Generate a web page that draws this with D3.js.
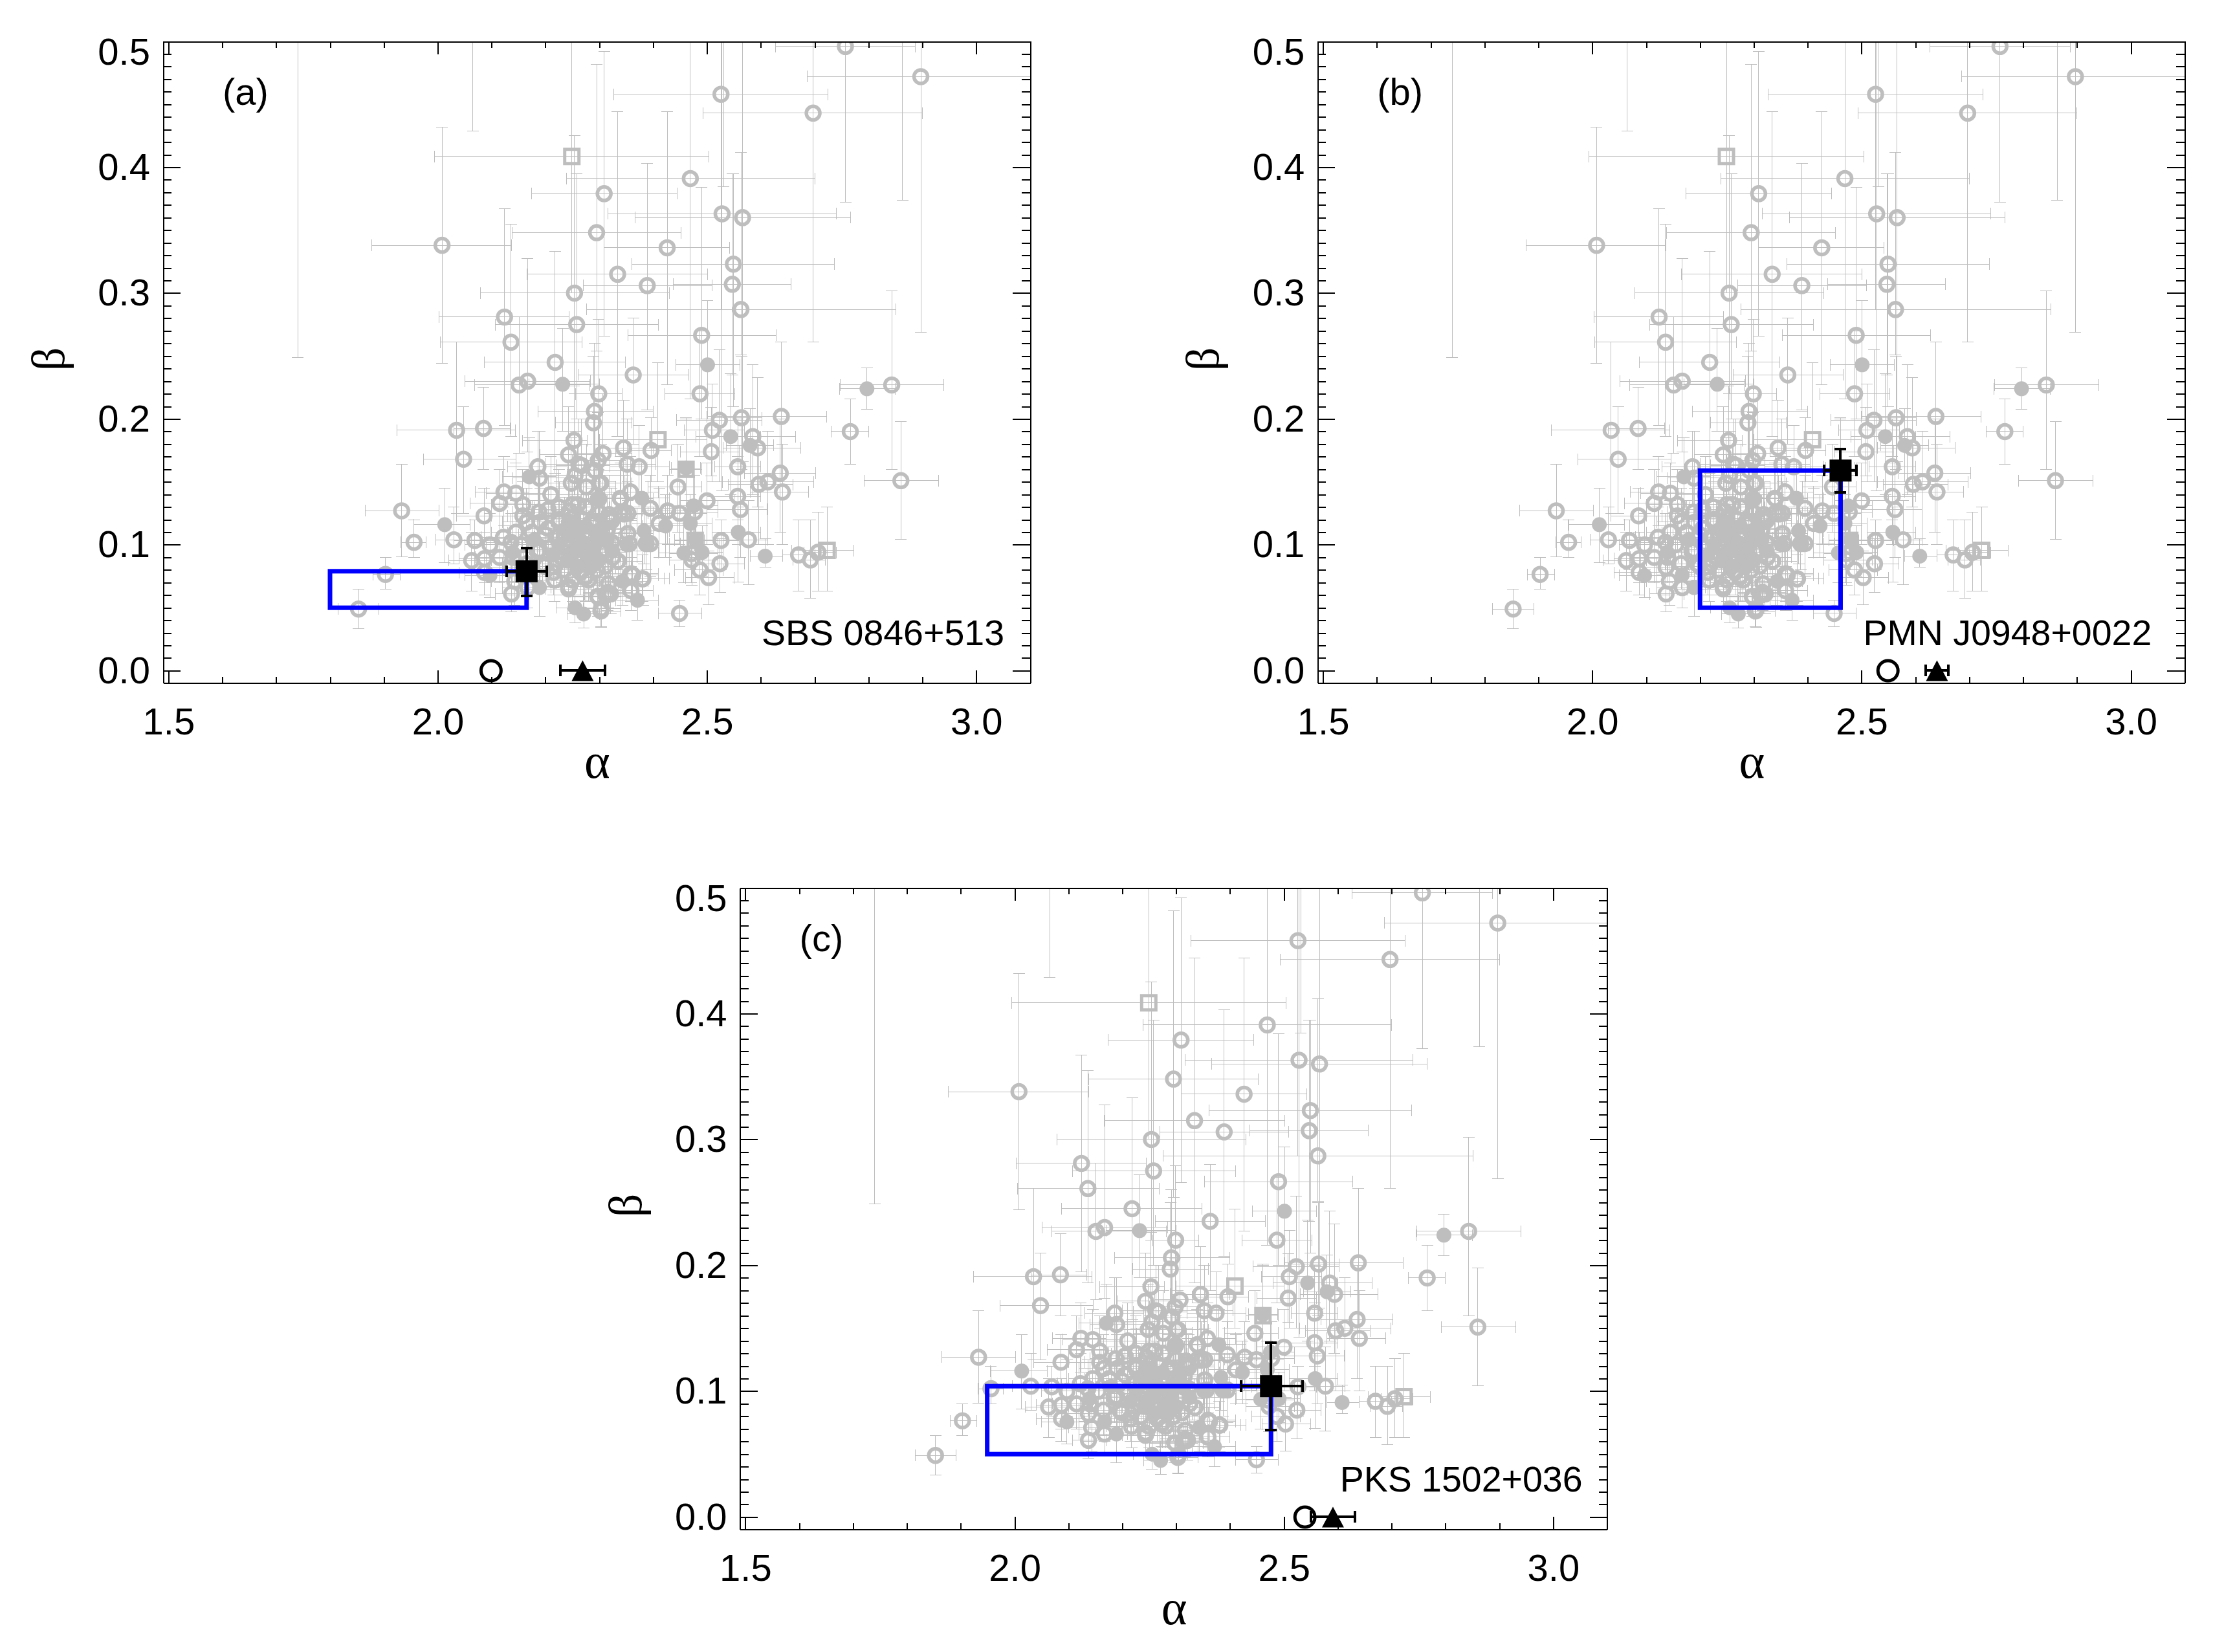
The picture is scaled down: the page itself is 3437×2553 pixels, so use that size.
<!DOCTYPE html>
<html lang="en">
<head>
<meta charset="UTF-8">
<title>alpha beta</title>
<script src="https://d3js.org/d3.v7.min.js"></script>
<style>
  html, body { margin: 0; background: #fff; }
  text { font-family: "Liberation Sans", sans-serif; fill: #000; }
</style>
</head>
<body>
<script>
// each row: alpha, beta, alphaLo, alphaHi, betaLo, betaHi
const openCircles = [
[2.008,.338,1.877,2.137,.244,.432],[2.254,.300,2.079,2.43,.22,.425],[2.258,.275,2.107,2.41,.2,.395],
[2.469,.391,2.239,2.70,.216,.6],[2.309,.379,2.174,2.444,.266,.492],[2.295,.348,2.138,2.452,.254,.482],
[2.426,.336,2.309,2.542,.227,.444],[2.334,.315,2.166,2.501,.186,.444],[2.389,.306,2.27,2.509,.207,.403],
[2.124,.281,2.003,2.244,.195,.367],[2.526,.458,2.327,2.725,.287,.6],[2.528,.363,2.316,2.74,.143,.6],
[2.697,.443,2.493,2.9,.261,.6],[2.757,.496,2.627,2.887,.372,.6],[2.897,.472,2.686,3.2,.269,.6],
[2.566,.36,2.366,2.766,.166,.6],[2.549,.323,2.361,2.737,.21,.395],[2.547,.307,2.437,2.656,.235,.395],
[2.563,.287,2.276,2.851,.251,.412],[2.49,.2665,2.353,2.628,.2,.384],[2.136,.261,2.005,2.268,.186,.3545],
[2.218,.245,2.087,2.348,.157,.333],[2.167,.230,2.051,2.284,.174,.3275],[2.151,.227,2.069,2.282,.1725,.281],
[2.299,.220,2.256,2.342,.16,.279],[2.291,.206,2.186,2.40,.15,.26],[2.289,.197,2.219,2.36,.15,.25],
[2.035,.191,1.924,2.144,.125,.261],[2.085,.1925,2.03,2.134,.16,.225],[2.048,.168,1.973,2.146,.125,.21],
[2.253,.183,2.158,2.278,.14,.226],[2.243,.1715,2.19,2.30,.13,.21],[2.307,.1725,2.26,2.36,.13,.22],
[2.345,.177,2.29,2.40,.14,.215],[2.262,.164,2.2,2.32,.125,.2],[2.352,.164,2.30,2.405,.125,.2],
[2.374,.162,2.32,2.43,.13,.195],[2.292,.159,2.24,2.35,.12,.2],[2.186,.162,2.13,2.24,.13,.19],
[2.189,.153,2.14,2.24,.12,.19],[2.248,.149,2.19,2.30,.11,.185],[2.30,.149,2.25,2.35,.115,.18],
[2.276,.146,2.22,2.33,.11,.18],[2.123,.142,2.07,2.17,.115,.17],[2.145,.141,2.09,2.20,.115,.165],
[2.115,.133,2.06,2.17,.105,.16],[2.158,.132,2.10,2.21,.105,.16],[2.358,.142,2.31,2.41,.11,.17],
[2.34,.1365,2.28,2.40,.105,.17],[2.25,.132,2.19,2.31,.105,.16],[2.188,.126,2.14,2.24,.10,.155],
[2.158,.123,2.10,2.21,.095,.15],[2.086,.123,2.035,2.13,.10,.145],[2.226,.120,2.17,2.28,.09,.15],
[2.25,.121,2.20,2.30,.09,.15],[2.318,.124,2.27,2.37,.095,.155],[2.346,.1245,2.29,2.40,.095,.155],
[2.487,.22,2.422,2.552,.17,.27],[2.638,.202,2.50,2.722,.15,.261],[2.523,.199,2.443,2.602,.15,.255],
[2.564,.201,2.508,2.602,.16,.25],[2.51,.191,2.458,2.57,.15,.228],[2.585,.186,2.50,2.664,.14,.243],
[2.594,.177,2.53,2.674,.13,.233],[2.396,.175,2.33,2.434,.15,.201],[2.508,.174,2.45,2.56,.1545,.209],
[2.557,.162,2.514,2.60,.12,.20],[2.446,.146,2.39,2.49,.11,.18],[2.636,.157,2.569,2.702,.11,.20],
[2.613,.150,2.529,2.698,.10,.19],[2.596,.148,2.54,2.66,.10,.18],[2.64,.142,2.58,2.689,.10,.18],
[2.557,.1385,2.50,2.60,.10,.17],[2.562,.128,2.50,2.612,.09,.165],[2.50,.135,2.45,2.55,.10,.165],
[2.766,.190,2.731,2.80,.164,.216],[2.843,.227,2.747,2.94,.16,.302],[2.86,.151,2.792,2.93,.1045,.198],
[2.577,.104,2.53,2.613,.0685,.135],[2.526,.1035,2.495,2.56,.08,.12],[2.524,.085,2.47,2.569,.062,.105],
[2.487,.080,2.44,2.53,.06,.10],[2.503,.074,2.46,2.55,.0525,.095],[2.67,.092,2.64,2.70,.063,.12],
[2.692,.088,2.66,2.72,.0576,.12],[2.706,.094,2.68,2.74,.063,.126],[2.449,.0455,2.41,2.49,.035,.056],
[2.477,.126,2.43,2.52,.095,.155],[2.471,.093,2.43,2.52,.07,.12],[2.427,.127,2.38,2.47,.10,.155],
[2.449,.125,2.40,2.50,.10,.15],[2.411,.117,2.36,2.46,.09,.145],[2.353,.109,2.30,2.40,.08,.135],
[2.395,.101,2.34,2.45,.075,.13],[2.395,.129,2.34,2.45,.10,.155],[2.339,.137,2.29,2.39,.11,.165],
[2.299,.1365,2.25,2.35,.105,.165],[2.303,.149,2.25,2.36,.12,.18],[2.339,.125,2.29,2.39,.10,.155],
[2.319,.121,2.27,2.37,.09,.15],[2.353,.125,2.30,2.41,.10,.15],[2.321,.061,2.27,2.37,.045,.08],
[2.297,.059,2.25,2.35,.043,.078],[2.303,.0474,2.27,2.34,.035,.06],[2.313,.060,2.27,2.36,.045,.08],
[2.359,.077,2.31,2.41,.055,.10],[2.381,.073,2.34,2.43,.052,.095],[2.359,.0635,2.31,2.40,.048,.083],
[2.317,.069,2.27,2.36,.05,.09],[2.335,.087,2.29,2.38,.065,.11],[2.311,.083,2.26,2.36,.06,.105],
[2.299,.106,2.25,2.35,.08,.13],[2.323,.119,2.27,2.37,.09,.145],[2.303,.094,2.25,2.35,.07,.115],
[2.323,.102,2.28,2.37,.08,.125],[2.293,.118,2.24,2.34,.09,.145],[1.933,.127,1.865,2.002,.0906,.164],
[1.956,.102,1.932,1.979,.09,.12],[2.03,.104,1.996,2.08,.085,.13],[2.069,.1035,2.03,2.11,.08,.12],
[2.097,.100,2.05,2.14,.08,.125],[2.122,.106,2.08,2.17,.085,.13],[2.136,.102,2.09,2.18,.08,.125],
[2.063,.0875,2.02,2.10,.063,.11],[2.087,.089,2.04,2.13,.07,.11],[2.115,.090,2.07,2.16,.07,.11],
[2.137,.082,2.09,2.18,.06,.105],[2.087,.078,2.04,2.13,.06,.10],[2.143,.071,2.10,2.19,.052,.09],
[2.137,.061,2.107,2.17,.047,.08],[2.167,.066,2.12,2.21,.05,.085],[2.189,.096,2.14,2.24,.075,.12],
[2.199,.083,2.15,2.25,.065,.105],[2.217,.072,2.17,2.26,.055,.09],[2.243,.067,2.20,2.29,.05,.085],
[2.275,.075,2.23,2.32,.055,.095],[1.903,.0765,1.88,1.93,.065,.09],[1.853,.049,1.815,1.891,.0334,.0648],
[2.243,.065,2.20,2.29,.05,.085],[2.273,.074,2.23,2.32,.056,.095],[2.316,.062,2.27,2.36,.048,.08],
[2.298,.0587,2.25,2.34,.045,.075],[2.304,.0494,2.27,2.34,.0345,.065],[2.362,.076,2.32,2.41,.058,.095],
[2.38,.073,2.34,2.42,.055,.092],[2.356,.101,2.31,2.40,.08,.125],[2.387,.101,2.34,2.43,.08,.125],
[2.472,.088,2.43,2.52,.068,.11],[2.267,.163,2.22,2.32,.125,.2],[2.298,.167,2.25,2.35,.13,.205],
[2.363,.235,2.261,2.466,.18,.28],[2.19,.118,2.14,2.24,.09,.145],[2.20,.108,2.15,2.25,.085,.135],
[2.205,.113,2.16,2.25,.09,.14],[2.21,.098,2.17,2.25,.075,.125],[2.22,.106,2.18,2.26,.08,.13],
[2.225,.118,2.18,2.27,.09,.145],[2.23,.09,2.19,2.27,.07,.115],[2.235,.109,2.19,2.28,.085,.135],
[2.24,.097,2.20,2.28,.075,.12],[2.245,.118,2.20,2.29,.09,.145],[2.247,.104,2.20,2.29,.08,.13],
[2.255,.088,2.21,2.30,.07,.11],[2.26,.112,2.21,2.31,.085,.14],[2.265,.098,2.22,2.31,.075,.125],
[2.27,.12,2.22,2.32,.095,.15],[2.275,.108,2.23,2.32,.085,.135],[2.28,.09,2.24,2.32,.07,.115],
[2.285,.118,2.24,2.33,.09,.145],[2.29,.10,2.25,2.33,.08,.125],[2.295,.11,2.25,2.34,.085,.135],
[2.30,.125,2.25,2.35,.10,.155],[2.305,.096,2.26,2.35,.075,.12],[2.315,.112,2.27,2.36,.085,.14],
[2.325,.09,2.28,2.37,.07,.115],[2.195,.085,2.15,2.24,.065,.105],[2.215,.078,2.17,2.26,.06,.10],
[2.235,.08,2.19,2.28,.06,.10],[2.25,.072,2.21,2.29,.055,.09],[2.265,.078,2.22,2.31,.06,.10],
[2.28,.072,2.24,2.32,.055,.09],[2.295,.08,2.25,2.34,.06,.10],[2.245,.127,2.20,2.29,.10,.155],
[2.225,.13,2.18,2.27,.10,.16],[2.26,.132,2.21,2.31,.105,.16],[2.205,.128,2.16,2.25,.10,.155],
[2.185,.095,2.14,2.23,.075,.12],[2.175,.11,2.13,2.22,.085,.135],[2.165,.118,2.12,2.21,.09,.145],
[2.155,.10,2.11,2.20,.08,.125],[2.145,.11,2.10,2.19,.085,.135],[2.14,.09,2.09,2.19,.07,.11],
[2.165,.085,2.12,2.21,.065,.105],[2.255,.155,2.21,2.30,.12,.19],[2.21,.14,2.16,2.26,.11,.17],
[2.275,.13,2.23,2.32,.10,.16],[2.22,.085,2.18,2.26,.065,.105],[2.247,.092,2.21,2.29,.072,.112]
];

const filledCircles = [
[2.501,.243,2.442,2.561,.20,.294],[2.544,.186,2.48,2.60,.14,.236],[2.58,.179,2.536,2.624,.15,.208],
[2.461,.161,2.434,2.488,.13,.201],[2.797,.224,2.746,2.85,.2075,.2405],[2.232,.2276,2.17,2.30,.19,.272],
[2.17,.154,2.12,2.22,.125,.185],[2.296,.1365,2.25,2.34,.11,.165],[2.013,.116,1.955,2.06,.086,.145],
[2.558,.110,2.51,2.60,.0706,.13],[2.608,.091,2.58,2.64,.082,.105],[2.371,.056,2.33,2.41,.04,.07],
[2.479,.104,2.44,2.52,.08,.13],[2.491,.094,2.45,2.53,.075,.115],[2.457,.0936,2.41,2.50,.07,.115],
[2.469,.117,2.43,2.51,.09,.14],[2.475,.131,2.43,2.52,.105,.155],[2.423,.115,2.38,2.47,.09,.14],
[2.383,.111,2.34,2.43,.085,.135],[2.387,.101,2.34,2.43,.08,.125],[2.351,.100,2.31,2.40,.08,.125],
[2.379,.137,2.33,2.43,.11,.165],[2.343,.071,2.30,2.39,.052,.09],[2.139,.094,2.09,2.18,.075,.115],
[2.097,.0756,2.05,2.14,.058,.095],[2.167,.076,2.12,2.21,.06,.095],[2.189,.066,2.15,2.23,.043,.09],
[2.179,.104,2.13,2.23,.08,.13],[2.255,.050,2.22,2.29,.038,.065],[2.271,.045,2.24,2.30,.034,.06],
[2.298,.105,2.25,2.35,.08,.13],[2.27,.102,2.22,2.32,.08,.125],[2.25,.093,2.20,2.30,.072,.115],
[2.285,.082,2.24,2.33,.062,.105],[2.315,.104,2.27,2.36,.08,.13],[2.235,.112,2.19,2.28,.088,.138],
[2.265,.113,2.22,2.31,.09,.14],[2.282,.09,2.24,2.33,.07,.112],[2.225,.10,2.18,2.27,.08,.125],
[2.245,.107,2.20,2.29,.085,.13],[2.258,.095,2.21,2.30,.075,.118],[2.275,.115,2.23,2.32,.09,.14],
[2.29,.097,2.25,2.33,.076,.12],[2.305,.113,2.26,2.35,.09,.138],[2.24,.087,2.20,2.28,.068,.108],
[2.26,.083,2.22,2.30,.065,.103],[2.30,.088,2.26,2.34,.068,.11],[2.215,.092,2.17,2.26,.072,.113],
[2.325,.095,2.28,2.37,.075,.118],[2.25,.118,2.21,2.29,.092,.145]
];

const openSquares = [
[2.249,.4086,1.994,2.504,.30,.6],[2.409,.1835,2.30,2.50,.15,.2446],[2.461,.160,2.43,2.49,.13,.20],
[2.478,.1035,2.44,2.52,.08,.13],[2.723,.0956,2.657,2.772,.063,.13]
];

// points above the plot, only their lower error bar shows
const aboveTop = [
[1.74,.58,1.74,1.74,.2487,.7],[2.065,.58,2.065,2.065,.4286,.7],[2.531,.58,2.531,2.531,.3847,.7],[2.863,.58,2.863,2.863,.3737,.7]
];

const panels = [
  {tag:"(a)", name:"SBS 0846+513", nameX:1300, left:252, top:64,
   sq:[2.165,.079,2.128,2.202,.0595,.0974], box:[1.8,2.165,.05,.079], circ:2.099, tri:[2.269,2.228,2.311]},
  {tag:"(b)", name:"PMN J0948+0022", nameX:1289, left:2036.3, top:64,
   sq:[2.461,.159,2.431,2.49,.1416,.176], box:[2.2,2.461,.05,.159], circ:2.549, tri:[2.64,2.619,2.661]},
  {tag:"(c)", name:"PKS 1502+036", nameX:1302, left:1143.6, top:1372,
   sq:[2.476,.104,2.42,2.535,.0693,.1384], box:[1.949,2.476,.05,.104], circ:2.539, tri:[2.591,2.55,2.632]}
];

const xMajor = [1.5,2.0,2.5,3.0];
const xMinor = [1.5,1.6,1.7,1.8,1.9,2.0,2.1,2.2,2.3,2.4,2.5,2.6,2.7,2.8,2.9,3.0,3.1];
const yMajor = [0,.1,.2,.3,.4,.5];
const yMinor = d3.range(0,51).map(d => d/100);

const W = 1340, H = 991.5, GRAY = "#bebebe";

const svg = d3.select("body").append("svg").attr("width",3437).attr("height",2553);
const x = d3.scaleLinear().domain([1.49,3.1]).range([0,W]);
const y = d3.scaleLinear().domain([-0.0098,0.5]).range([H,0]);

svg.append("defs").append("clipPath").attr("id","plot").append("rect").attr("width",W).attr("height",H);

function errorBars(g, d, color, width, cap) {
  const xa = x(d[0]), yb = y(d[1]);
  const p = d3.path();
  p.moveTo(x(d[2]),yb); p.lineTo(x(d[3]),yb);
  p.moveTo(x(d[2]),yb-cap); p.lineTo(x(d[2]),yb+cap);
  p.moveTo(x(d[3]),yb-cap); p.lineTo(x(d[3]),yb+cap);
  p.moveTo(xa,y(d[4])); p.lineTo(xa,y(d[5]));
  p.moveTo(xa-cap,y(d[4])); p.lineTo(xa+cap,y(d[4]));
  p.moveTo(xa-cap,y(d[5])); p.lineTo(xa+cap,y(d[5]));
  g.append("path").attr("d",p.toString()).attr("fill","none")
    .attr("stroke",color).attr("stroke-width",width).attr("shape-rendering","crispEdges");
}

function drawPanel(p) {
  const g = svg.append("g").attr("transform",`translate(${p.left},${p.top})`);
  const plot = g.append("g").attr("clip-path","url(#plot)");

  openCircles.concat(filledCircles, openSquares, aboveTop).forEach(d => errorBars(plot,d,GRAY,1,9));

  plot.selectAll(".open").data(openCircles).join("circle").attr("class","open")
    .attr("cx",d=>x(d[0])).attr("cy",d=>y(d[1])).attr("r",10.5)
    .attr("fill","none").attr("stroke",GRAY).attr("stroke-width",5.5);
  plot.selectAll(".filled").data(filledCircles).join("circle").attr("class","filled")
    .attr("cx",d=>x(d[0])).attr("cy",d=>y(d[1])).attr("r",11.5).attr("fill",GRAY);
  plot.selectAll(".sq").data(openSquares).join("rect").attr("class","sq")
    .attr("x",d=>x(d[0])-11).attr("y",d=>y(d[1])-11).attr("width",22).attr("height",22)
    .attr("fill","none").attr("stroke",GRAY).attr("stroke-width",5);

  // blue range box
  g.append("rect").attr("x",x(p.box[0])).attr("y",y(p.box[3]))
    .attr("width",x(p.box[1])-x(p.box[0])).attr("height",y(p.box[2])-y(p.box[3]))
    .attr("fill","none").attr("stroke","#0000ff").attr("stroke-width",7);

  // the source itself
  errorBars(g,p.sq,"#000",4,9);
  g.append("rect").attr("x",x(p.sq[0])-17).attr("y",y(p.sq[1])-17).attr("width",34).attr("height",34).attr("fill","#000");

  g.append("circle").attr("cx",x(p.circ)).attr("cy",y(0)).attr("r",15.5)
    .attr("fill","none").attr("stroke","#000").attr("stroke-width",5);
  errorBars(g,[p.tri[0],0,p.tri[1],p.tri[2],0,0],"#000",4,9);
  g.append("path").attr("transform",`translate(${x(p.tri[0])},${y(0)})`)
    .attr("d","M0,-16L17,16L-17,16Z").attr("fill","#000");

  // frame and ticks
  g.append("g").attr("transform",`translate(0,${H})`)
    .call(d3.axisBottom(x).tickValues(xMinor).tickSizeInner(-10).tickSizeOuter(0).tickFormat(""));
  g.append("g").attr("transform",`translate(0,${H})`)
    .call(d3.axisBottom(x).tickValues(xMajor).tickSizeInner(-20).tickSizeOuter(0).tickPadding(38).tickFormat(d3.format(".1f")))
    .attr("class","xlab");
  g.append("g").call(d3.axisTop(x).tickValues(xMinor).tickSizeInner(-10).tickSizeOuter(0).tickFormat(""));
  g.append("g").call(d3.axisTop(x).tickValues(xMajor).tickSizeInner(-20).tickSizeOuter(0).tickFormat(""));
  g.append("g").call(d3.axisLeft(y).tickValues(yMinor).tickSizeInner(-13).tickSizeOuter(0).tickFormat(""));
  g.append("g").call(d3.axisLeft(y).tickValues(yMajor).tickSizeInner(-27).tickSizeOuter(0).tickPadding(20).tickFormat(d3.format(".1f")))
    .attr("class","ylab");
  g.append("g").attr("transform",`translate(${W},0)`)
    .call(d3.axisRight(y).tickValues(yMinor).tickSizeInner(-13).tickSizeOuter(0).tickFormat(""));
  g.append("g").attr("transform",`translate(${W},0)`)
    .call(d3.axisRight(y).tickValues(yMajor).tickSizeInner(-27).tickSizeOuter(0).tickFormat(""));
  g.selectAll(".domain").attr("stroke","#000").attr("stroke-width",2).attr("shape-rendering","crispEdges");
  g.selectAll(".tick line").attr("stroke","#000").attr("stroke-width",2).attr("shape-rendering","crispEdges");
  g.selectAll(".xlab text, .ylab text").attr("font-size",58).attr("font-family","Liberation Sans").attr("fill","#000");
  // top label sits lower so it stays below the frame
  g.selectAll(".ylab .tick").filter(d => d === .5).select("text").attr("y",17).attr("dy",".32em");

  g.append("text").attr("x",92).attr("y",98).attr("font-size",58).text(p.tag);
  g.append("text").attr("x",p.nameX).attr("y",933).attr("text-anchor","end").attr("font-size",55.5).text(p.name);
  g.append("text").attr("x",671).attr("y",1138).attr("text-anchor","middle").attr("font-size",76)
    .style("font-family","Liberation Serif").text("α");
  g.append("text").attr("transform","translate(-153,491) rotate(-90)").attr("text-anchor","middle").attr("font-size",72)
    .style("font-family","Liberation Serif").text("β");
}

panels.forEach(drawPanel);
</script>
</body>
</html>
